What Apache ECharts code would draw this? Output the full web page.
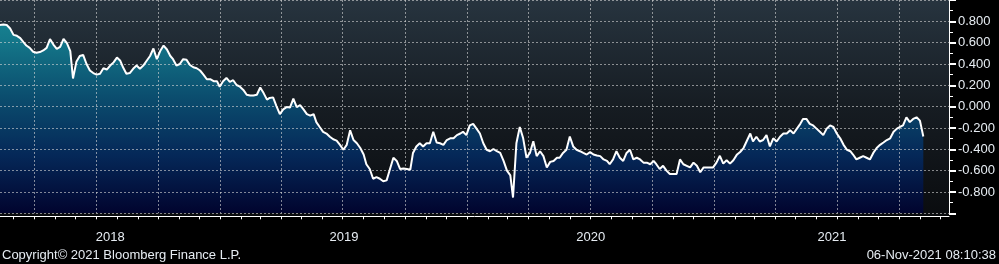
<!DOCTYPE html>
<html><head><meta charset="utf-8">
<style>html,body{margin:0;padding:0;background:#000;}#chart{width:999px;height:264px;}</style>
<script src="https://cdn.jsdelivr.net/npm/echarts@6/dist/echarts.min.js"></script>
</head><body><div id="chart"></div>
<script>
// ---- data ----
const startDate = '2018-02-09';      // left edge of the time axis
const axisEndDate = '2021-12-14';    // right edge of the time axis
const lastDataDate = '2021-11-06';   // date of the last reading
const lastValue = -0.280;
const copyrightText = 'Copyright\u00A9 2021 Bloomberg Finance L.P.';
const stampText = '06-Nov-2021 08:10:38';
const years = ['2018', '2019', '2020', '2021'];
// readings, evenly spaced in time from startDate to lastDataDate
const values = [
 0.766,0.771,0.766,0.733,0.673,0.664,0.642,0.603,0.573,0.551,
 0.515,0.505,0.512,0.527,0.551,0.633,0.582,0.542,0.560,0.636,
 0.596,0.521,0.264,0.420,0.475,0.485,0.400,0.339,0.315,0.300,
 0.309,0.360,0.348,0.385,0.415,0.460,0.430,0.369,0.309,0.315,
 0.355,0.385,0.355,0.385,0.430,0.475,0.545,0.445,0.521,0.573,
 0.536,0.475,0.445,0.385,0.400,0.445,0.439,0.391,0.369,0.360,
 0.339,0.300,0.257,0.257,0.239,0.239,0.187,0.239,0.269,0.233,
 0.248,0.203,0.187,0.157,0.112,0.105,0.105,0.112,0.180,0.127,
 0.066,0.082,0.087,0.005,-0.070,-0.025,-0.004,-0.009,0.075,-0.004,
 0.015,-0.025,-0.070,-0.085,-0.070,-0.145,-0.191,-0.236,-0.252,-0.282,
 -0.306,-0.318,-0.358,-0.404,-0.358,-0.222,-0.313,-0.343,-0.388,-0.449,
 -0.540,-0.585,-0.676,-0.661,-0.676,-0.700,-0.691,-0.585,-0.479,-0.509,
 -0.585,-0.579,-0.585,-0.591,-0.434,-0.373,-0.343,-0.373,-0.343,-0.343,
 -0.236,-0.336,-0.343,-0.358,-0.313,-0.297,-0.297,-0.267,-0.252,-0.236,
 -0.267,-0.176,-0.161,-0.206,-0.252,-0.343,-0.404,-0.418,-0.397,-0.418,
 -0.434,-0.509,-0.600,-0.645,-0.852,-0.343,-0.191,-0.297,-0.479,-0.434,
 -0.325,-0.464,-0.418,-0.464,-0.570,-0.518,-0.509,-0.479,-0.479,-0.434,
 -0.404,-0.280,-0.373,-0.404,-0.418,-0.434,-0.449,-0.427,-0.449,-0.458,
 -0.464,-0.495,-0.509,-0.540,-0.495,-0.418,-0.479,-0.509,-0.434,-0.404,
 -0.495,-0.479,-0.495,-0.525,-0.525,-0.540,-0.509,-0.540,-0.585,-0.555,
 -0.600,-0.631,-0.631,-0.631,-0.495,-0.540,-0.555,-0.570,-0.525,-0.555,
 -0.615,-0.570,-0.570,-0.570,-0.570,-0.525,-0.461,-0.534,-0.502,-0.534,
 -0.502,-0.452,-0.425,-0.388,-0.320,-0.252,-0.327,-0.282,-0.327,-0.313,
 -0.267,-0.373,-0.297,-0.327,-0.282,-0.252,-0.252,-0.222,-0.252,-0.206,
 -0.161,-0.115,-0.115,-0.161,-0.176,-0.206,-0.236,-0.267,-0.206,-0.176,
 -0.191,-0.252,-0.297,-0.358,-0.404,-0.418,-0.449,-0.495,-0.479,-0.464,
 -0.479,-0.495,-0.434,-0.388,-0.358,-0.336,-0.313,-0.297,-0.236,-0.206,
 -0.191,-0.176,-0.100,-0.145,-0.115,-0.100,-0.131,-0.280
];

// ---- build ----
const DAY = 86400000;
function parseD(s){const p=s.split('-').map(Number);return Date.UTC(p[0],p[1]-1,p[2]);}
function fmtD(t){return new Date(t).toISOString().slice(0,10);}
const t0 = parseD(startDate), t1 = parseD(axisEndDate), tLast = parseD(lastDataDate);
const nDays = Math.round((t1 - t0) / DAY);
const days = [];
for (let i = 0; i <= nDays; i++) days.push(fmtD(t0 + i * DAY));
const lastIdx = Math.round((tLast - t0) / DAY);
const step = lastIdx / (values.length - 1);
const seriesData = values.map((v, k) => [Math.round(k * step), v]);

const labelIdx = new Set();
years.forEach(y => {
  const a = Math.max(0, Math.round((parseD(y + '-01-01') - t0) / DAY));
  const b = Math.min(nDays, Math.round((parseD((+y + 1) + '-01-01') - t0) / DAY));
  labelIdx.add(Math.round((a + b) / 2));
});

const gridLine = {color: 'rgba(215,215,215,0.6)', width: 1, type: [2, 2]};
const txtColor = '#e6ecf2';
const font = 'Liberation Sans, Arial, sans-serif';

const chart = echarts.init(document.getElementById('chart'), null, {renderer: 'canvas'});
chart.setOption({
  backgroundColor: '#000',
  animation: false,
  textStyle: {fontFamily: font},
  graphic: [{
    type: 'rect', z: -100, silent: true,
    shape: {x: 0, y: 0, width: 949, height: 216},
    style: {fill: {type: 'linear', x: 0, y: 0, x2: 0, y2: 1, colorStops: [
      {offset: 0, color: '#27343f'}, {offset: 0.5, color: '#161c22'}, {offset: 1, color: '#0a0c0f'}]}}
  }],
  title: [
    {text: copyrightText, left: 2, top: 249, padding: 0,
     textStyle: {color: txtColor, fontSize: 13, fontWeight: 'normal', fontFamily: font}},
    {text: stampText, right: 3, top: 249, padding: 0,
     textStyle: {color: txtColor, fontSize: 13, fontWeight: 'normal', fontFamily: font}}
  ],
  grid: {left: 0, right: 50, top: -7.7, bottom: 50.7, containLabel: false},
  xAxis: [{
    type: 'category', data: days, boundaryGap: false, offset: 3, z: 3,
    axisLine: {show: true, onZero: false, lineStyle: {color: '#ffffff', width: 1}},
    axisTick: {show: true, length: 3, interval: (i, v) => v.endsWith('-01'), lineStyle: {color: '#ffffff'}},
    axisLabel: {show: true, interval: (i) => labelIdx.has(i), formatter: v => v.slice(0, 4),
      color: txtColor, fontSize: 13, margin: 15, fontFamily: font},
    splitLine: {show: true, interval: (i, v) => /-(01|04|07|10)-01$/.test(v), lineStyle: gridLine}
  }, {
    type: 'category', data: days, boundaryGap: false, offset: 16.7, z: 3,
    axisLine: {show: false, onZero: false},
    axisTick: {show: true, length: 16, interval: (i, v) => v.endsWith('-01-01'), lineStyle: {color: '#9a9a9a'}},
    axisLabel: {show: false}, splitLine: {show: false}
  }],
  yAxis: {
    type: 'value', position: 'right', min: -1, max: 1, interval: 0.2, z: 3,
    axisLine: {show: true, lineStyle: {color: '#ffffff', width: 1}},
    axisTick: {show: true, length: 7, lineStyle: {color: '#ffffff', width: 2}},
    minorTick: {show: true, splitNumber: 2, length: 4, lineStyle: {color: '#ffffff'}},
    axisLabel: {color: txtColor, fontSize: 13, margin: 9, fontFamily: font,
      showMinLabel: false, showMaxLabel: false,
      formatter: v => (Math.abs(v) < 1e-9 ? 0 : v).toFixed(3)},
    splitLine: {show: true, lineStyle: gridLine}
  },
  series: [{
    type: 'line', data: seriesData, symbol: 'none', silent: true, z: 1,
    lineStyle: {width: 0, opacity: 0},
    areaStyle: {opacity: 1, origin: 'start', color: {type: 'linear', x: 0, y: 0, x2: 0, y2: 216, global: true,
      colorStops: [{offset: 0, color: '#1b8c9a'}, {offset: 0.18, color: '#14788a'},
        {offset: 0.45, color: '#0b4d6e'}, {offset: 0.72, color: '#052858'}, {offset: 1, color: '#01022c'}]}}
  }, {
    type: 'line', data: seriesData, symbol: 'none', z: 5,
    lineStyle: {color: '#ffffff', width: 2},
    markLine: {silent: true, symbol: 'none', lineStyle: {opacity: 0}, data: [{yAxis: lastValue}],
      label: {show: true, position: 'end', distance: 3, formatter: () => lastValue.toFixed(3),
        backgroundColor: '#ffffff', color: '#000000', fontSize: 13, fontFamily: font, padding: [1, 4, 0, 5]}}
  }]
});
</script></body></html>
